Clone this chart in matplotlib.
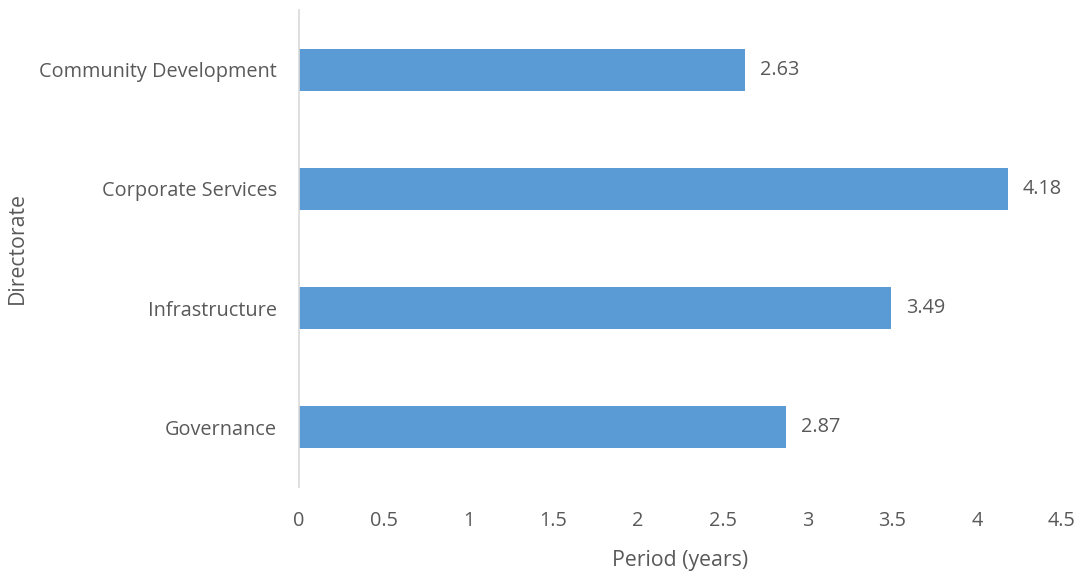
import matplotlib
matplotlib.use("Agg")
import matplotlib.pyplot as plt

directorates = ["Community Development", "Corporate Services", "Infrastructure", "Governance"]
periods = [2.63, 4.18, 3.49, 2.87]
x_ticks = [0, 0.5, 1, 1.5, 2, 2.5, 3, 3.5, 4, 4.5]
x_tick_labels = ["0", "0.5", "1", "1.5", "2", "2.5", "3", "3.5", "4", "4.5"]

plt.rcParams["font.family"] = ["Open Sans", "DejaVu Sans"]
text_color = "#595959"
bar_color = "#5B9BD5"

fig = plt.figure(figsize=(10.81, 5.75), dpi=100)
ax = fig.add_axes([299 / 1081, 1 - 487 / 575, (1062 - 299) / 1081, (487 - 10) / 575])

positions = list(range(len(directorates)))
ax.barh(positions, periods, height=0.352, color=bar_color)

for pos, val in zip(positions, periods):
    ax.annotate(f"{val:.2f}", xy=(val, pos), xytext=(11, 0), textcoords="offset points",
                ha="left", va="center", fontsize=14.3, color=text_color)

ax.set_xlim(0, 4.5)
ax.set_ylim(3.5, -0.5)
ax.set_yticks(positions)
ax.set_yticklabels(directorates, fontsize=14.3, color=text_color)
ax.set_xticks(x_ticks)
ax.set_xticklabels(x_tick_labels, fontsize=14.3, color=text_color)
ax.tick_params(axis="both", length=0)
ax.tick_params(axis="x", pad=17)
ax.tick_params(axis="y", pad=16)

for side in ["top", "right", "bottom"]:
    ax.spines[side].set_visible(False)
ax.spines["left"].set_color("#D9D9D9")
ax.spines["left"].set_linewidth(1.2)

ax.set_xlabel("Period (years)", fontsize=15.3, color=text_color, labelpad=14)
ax.set_ylabel("Directorate", fontsize=15.3, color=text_color)
ax.yaxis.set_label_coords(-271 / 763, 0.5)

fig.savefig("out.png", dpi=100)
